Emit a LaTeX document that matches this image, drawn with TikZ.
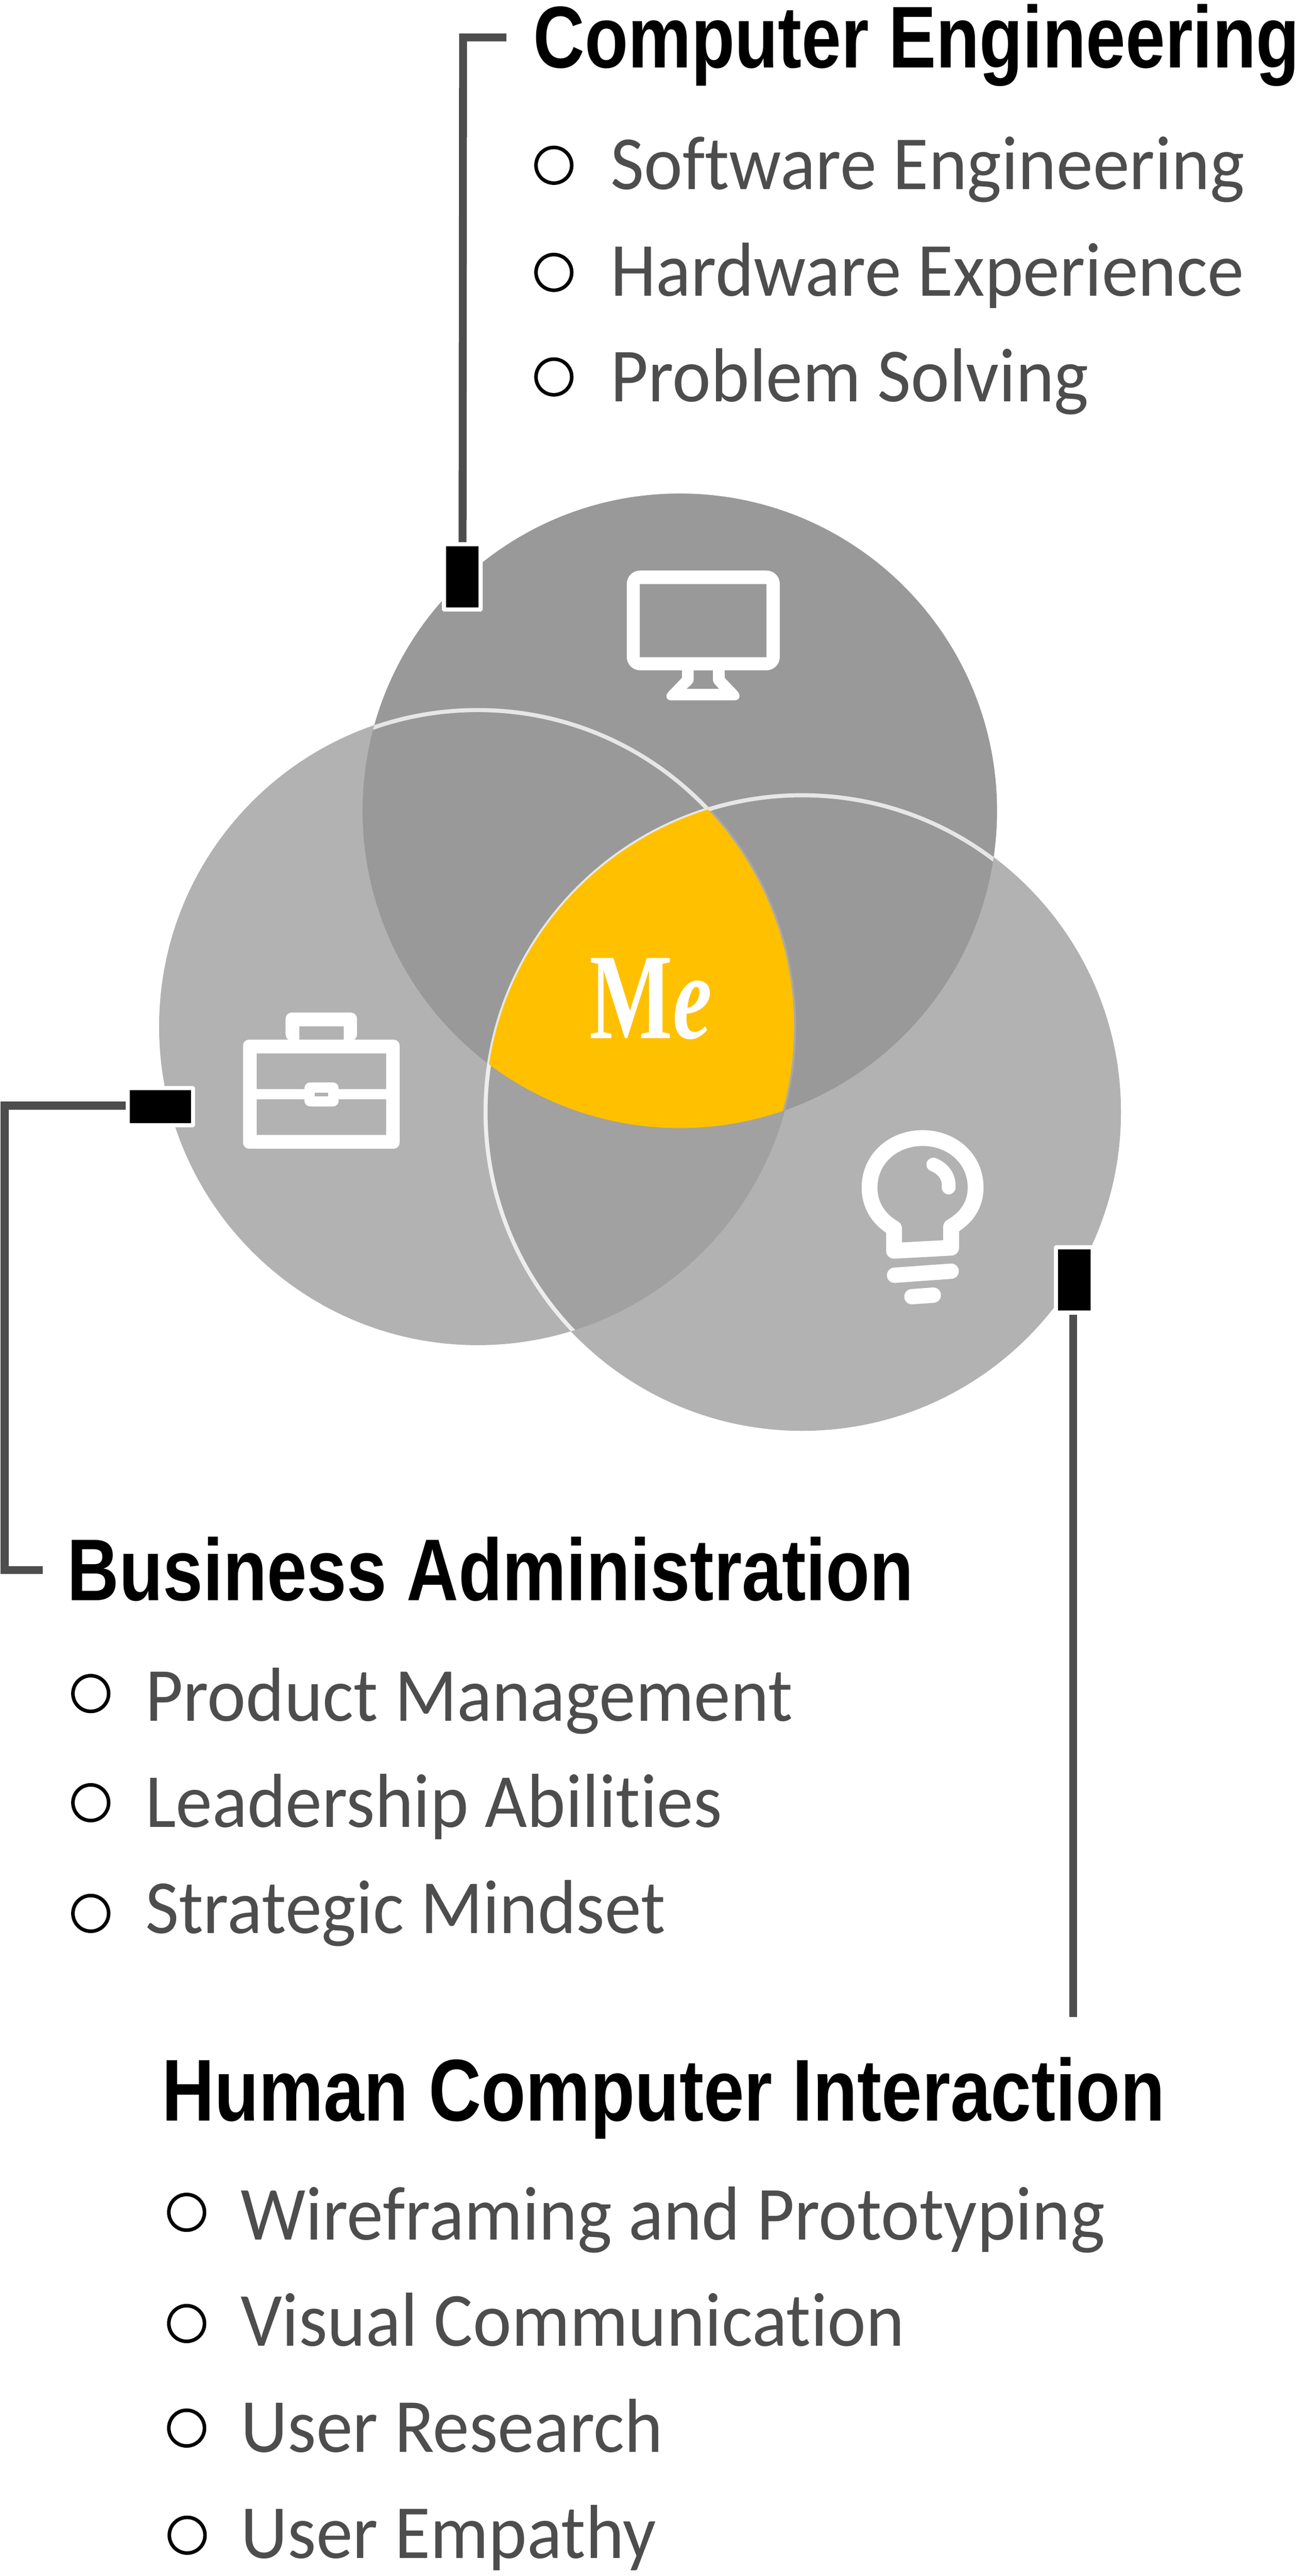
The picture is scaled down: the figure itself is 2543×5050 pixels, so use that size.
\documentclass[tikz,border=0pt]{standalone}
\usepackage{fontspec}
\setmainfont[FakeStretch=0.955,Ligatures=NoCommon]{Carlito}
\newfontfamily\headA[FakeStretch=0.81]{Liberation Sans}
\newfontfamily\headB[FakeStretch=0.819]{Liberation Sans}
\newfontfamily\headC[FakeStretch=0.83]{Liberation Sans}
\newfontfamily\meserif[FakeStretch=0.72]{Liberation Serif}
\definecolor{amber}{HTML}{FFC000}
\definecolor{darkg}{HTML}{999999}
\definecolor{lightg}{HTML}{B2B2B2}
\definecolor{midg}{HTML}{A1A1A1}
\definecolor{edgeg}{HTML}{E6E6E6}
\definecolor{edgeh}{HTML}{EDEDED}
\definecolor{rimg}{HTML}{A9A9A9}
\definecolor{txtg}{HTML}{4D4D4D}
\tikzset{
 conn/.style={draw=txtg,line width=15.5pt,line cap=butt,line join=miter},
 marker/.style={rectangle,draw=white,fill=black,line width=8pt,rounded corners=1pt,inner sep=0pt},
 headtxt/.style={anchor=base west,inner sep=0pt,text=black},
 itemtxt/.style={anchor=base west,inner sep=0pt,text=txtg,font=\fontsize{150}{150}\selectfont},
 bul/.style={circle,draw=black,fill=white,line width=7pt,minimum size=70pt,inner sep=0pt},
 iconline/.style={draw=white,line cap=round,line join=round},
}
\def\Rt{622}
\def\Rl{624.5}
\def\Rr{625}
\def\topc{(1333,1589.5)}
\def\leftc{(936.5,2012.5)}
\def\rightc{(1573,2180)}
\def\hfs{\bfseries\fontsize{172}{172}\selectfont}
\begin{document}
\begin{tikzpicture}[x=1pt,y=-1pt]
\useasboundingbox (0,0) rectangle (2543,5050);
\fill[white] (0,0) rectangle (2543,5050);
% circles
\fill[darkg] \topc circle[radius=\Rt pt];
\fill[lightg] \leftc circle[radius=\Rl pt];
\fill[lightg] \rightc circle[radius=\Rr pt];
\begin{scope}\clip \leftc circle[radius=\Rl pt];
 \clip \rightc circle[radius=\Rr pt];
 \fill[midg] (0,0) rectangle (2543,5050);
\end{scope}
\begin{scope}\clip \topc circle[radius=\Rt pt];
 \fill[darkg] \leftc circle[radius=\Rl pt];
 \draw[edgeg,line width=8pt] \leftc circle[radius=620.5pt];
 \fill[darkg] \rightc circle[radius=\Rr pt];
\end{scope}
\begin{scope}\clip \topc circle[radius=\Rt pt];
 \clip \rightc circle[radius=\Rr pt];
 \draw[rimg,line width=4pt] \leftc circle[radius=622.5pt];
\end{scope}
\begin{scope}\clip \leftc circle[radius=\Rl pt];
 \draw[edgeh,line width=8pt] \rightc circle[radius=621pt];
\end{scope}
\begin{scope}\clip \topc circle[radius=\Rt pt];
 \draw[edgeg,line width=8pt] \rightc circle[radius=621pt];
\end{scope}
\begin{scope}\clip \topc circle[radius=\Rt pt];
 \clip \leftc circle[radius=620.5pt];
 \clip \rightc circle[radius=621pt];
 \fill[amber] (0,0) rectangle (2543,5050);
\end{scope}
% monitor icon
\fill[white,even odd rule,rounded corners=26pt] (1229,1118.5) rectangle (1529,1314) [sharp corners] (1254.6,1145) rectangle (1503,1288.4);
\fill[white,even odd rule] (1337,1310) -- (1337,1329) -- (1311,1356) .. controls (1303,1364) and (1307,1373) .. (1316,1373) -- (1440,1373) .. controls (1450,1373) and (1454,1364) .. (1445,1354) -- (1421,1329) -- (1421,1310) -- cycle
 (1360,1314) -- (1360,1332) .. controls (1360,1340) and (1354,1343) .. (1346,1350.4) -- (1410,1350.4) .. controls (1404,1343) and (1398,1340) .. (1398,1332) -- (1398,1314) -- cycle;
% briefcase icon
\fill[white,even odd rule,rounded corners=12pt] (476.5,2038) rectangle (783.6,2252) [sharp corners] (503.4,2065) rectangle (757,2135) (503.4,2155) rectangle (757,2225);
\fill[white,even odd rule,rounded corners=12pt] (560,1985) rectangle (700,2040) [sharp corners] (587,2012) rectangle (674,2040);
\fill[white,rounded corners=11pt] (597,2122) rectangle (664,2169);
\fill[lightg] (617,2142) rectangle (643.5,2149);
% bulb icon
\draw[iconline,line width=31pt] (1753,2452) -- (1753,2408) .. controls (1722,2390) and (1705,2362) .. (1705,2328) .. controls (1705,2271) and (1752,2231) .. (1809,2231) .. controls (1866,2231) and (1913,2271) .. (1913,2328) .. controls (1913,2362) and (1895,2388) .. (1865,2405) -- (1865,2446) -- cycle;
\draw[iconline,line width=27pt] (1830,2283) .. controls (1848,2290) and (1862,2306) .. (1860,2328);
\draw[iconline,line width=30pt] (1754,2500) -- (1865,2492);
\draw[iconline,line width=30pt] (1788,2542) -- (1830,2539);
% Me
\node[anchor=base west,inner sep=0pt,text=white,font=\meserif\bfseries\fontsize{240}{240}\selectfont] (me) at (1156,2036) {M\textit{e}};
% markers
\node[marker,minimum width=72pt,minimum height=128pt] (mtop) at (906.5,1131) {};
\node[marker,minimum width=128pt,minimum height=73pt] (mleft) at (314.5,2169.5) {};
\node[marker,minimum width=72pt,minimum height=128pt] (mright) at (2106.5,2509) {};
% connectors
\coordinate (ctop) at (993,73.5);
\coordinate (cleft) at (84,3078);
\coordinate (cright) at (2104,3954);
\draw[conn] (ctop) -- (908,73.5) -- (mtop.north -| 907,0);
\draw[conn] (cleft) -- (9,3078) -- (9,2167.5) -- (mleft.west |- 0,2167.5);
\draw[conn] (mright.south -| 2104,0) -- (cright);
% texts
\node[headtxt,font=\headA\hfs] (h1) at (1046,133) {Computer Engineering};
\node[bul] (b11) at (1086,324) {};
\node[bul] (b12) at (1086,534) {};
\node[bul] (b13) at (1086,739) {};
\node[itemtxt] (t11) at (1197,371) {Software Engineering};
\node[itemtxt] (t12) at (1197,580) {Hardware Experience};
\node[itemtxt] (t13) at (1197,787) {Problem Solving};
\node[headtxt,font=\headB\hfs] (h2) at (132,3138) {Business Administration};
\node[bul] (b21) at (178,3320) {};
\node[bul] (b22) at (178,3534) {};
\node[bul] (b23) at (178,3751) {};
\node[itemtxt] (t21) at (285,3374) {Product Management};
\node[itemtxt] (t22) at (285,3582) {Leadership Abilities};
\node[itemtxt] (t23) at (285,3790) {Strategic Mindset};
\node[headtxt,font=\headC\hfs] (h3) at (317,4158) {Human Computer Interaction};
\node[bul] (b31) at (366,4337) {};
\node[bul] (b32) at (366,4555) {};
\node[bul] (b33) at (366,4760) {};
\node[bul] (b34) at (367,4970) {};
\node[itemtxt] (t31) at (472,4391) {Wireframing and Prototyping};
\node[itemtxt] (t32) at (472,4599) {Visual Communication};
\node[itemtxt] (t33) at (472,4807) {User Research};
\node[itemtxt] (t34) at (472,5015) {User Empathy};
\end{tikzpicture}
\end{document}
